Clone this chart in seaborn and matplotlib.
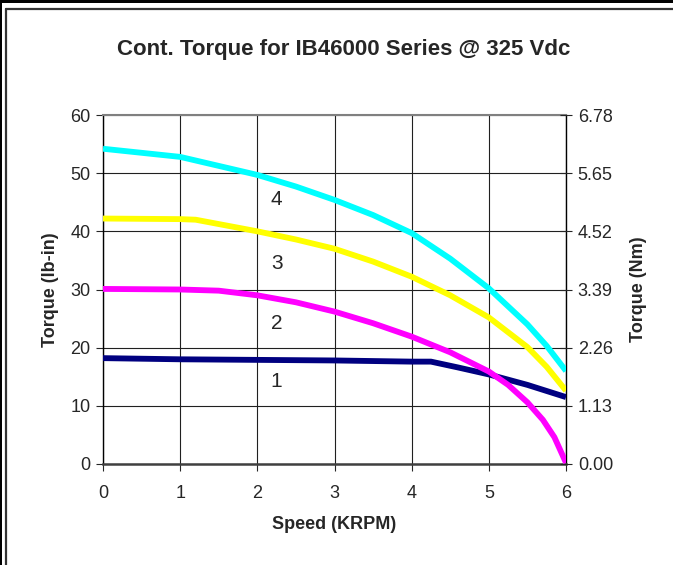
import matplotlib
matplotlib.use("Agg")
import matplotlib.pyplot as plt
import pandas as pd
import seaborn as sns
from matplotlib.lines import Line2D
from matplotlib.patches import Rectangle

# speed (KRPM) and torque (lb-in)
SPEED_1 = [0, 1, 2, 3, 4, 4.25, 4.6, 5, 5.5, 6]
TORQUE_1 = [18.2, 18.0, 17.9, 17.8, 17.6, 17.6, 16.6, 15.4, 13.6, 11.5]
SPEED_2 = [0, 1, 1.5, 2, 2.5, 3, 3.5, 4, 4.5, 5, 5.25, 5.5, 5.7, 5.85, 6]
TORQUE_2 = [30.1, 30.0, 29.8, 29.0, 27.8, 26.2, 24.2, 21.9, 19.2, 15.9, 13.6, 10.6, 7.6, 4.6, 0.2]
SPEED_3 = [0, 1, 1.2, 2, 2.5, 3, 3.5, 4, 4.5, 5, 5.5, 5.75, 6]
TORQUE_3 = [42.2, 42.1, 42.0, 40.0, 38.6, 37.0, 34.8, 32.2, 29.0, 25.2, 20.1, 16.7, 12.6]
SPEED_4 = [0, 1, 2, 2.5, 3, 3.5, 4, 4.5, 5, 5.5, 5.75, 6]
TORQUE_4 = [54.2, 52.8, 49.7, 47.7, 45.4, 42.8, 39.7, 35.3, 30.2, 24.0, 20.3, 16.0]

SERIES_NAMES = ["1", "2", "3", "4"]
SERIES_COLORS = ["#000080", "#FF00FF", "#FFFF00", "#00FFFF"]
LABEL_X = [2.25, 2.25, 2.25, 2.25]
LABEL_Y = [14.1, 24.2, 34.5, 45.4]

X_TICKS = [0, 1, 2, 3, 4, 5, 6]
Y_TICKS = [0, 10, 20, 30, 40, 50, 60]
NM_TICKS = [0.00, 1.13, 2.26, 3.39, 4.52, 5.65, 6.78]

TITLE = "Cont. Torque for IB46000 Series @ 325 Vdc"


def main() -> None:
    sns.set_style("white")
    plt.rcParams["font.family"] = ["Liberation Sans", "DejaVu Sans"]

    frames = []
    for name, xs, ys in [
        ("1", SPEED_1, TORQUE_1),
        ("2", SPEED_2, TORQUE_2),
        ("3", SPEED_3, TORQUE_3),
        ("4", SPEED_4, TORQUE_4),
    ]:
        frames.append(pd.DataFrame({"speed": xs, "torque": ys, "motor": name}))
    df = pd.concat(frames, ignore_index=True)

    fig = plt.figure(figsize=(6.73, 5.65), dpi=100)
    ax = fig.add_axes([103 / 673, 101 / 565, 463 / 673, 349 / 565])

    for name, color in zip(SERIES_NAMES, SERIES_COLORS):
        sub = df[df["motor"] == name]
        sns.lineplot(data=sub, x="speed", y="torque", color=color, linewidth=4.2,
                     ax=ax, legend=False, zorder=3, solid_capstyle="butt")

    for name, x, y in zip(SERIES_NAMES, LABEL_X, LABEL_Y):
        ax.text(x, y, name, fontsize=15, ha="center", va="center", zorder=4)

    ax.set_xlim(0, 6)
    ax.set_ylim(0, 60)
    ax.set_xticks(X_TICKS)
    ax.set_yticks(Y_TICKS)
    ax.grid(True, color="#202020", linewidth=0.8)
    ax.tick_params(axis="both", labelsize=13, direction="out", length=5, width=0.8,
                   left=True, bottom=True, pad=4)
    ax.tick_params(axis="x", pad=10)
    ax.set_xlabel("Speed (KRPM)", fontsize=13, fontweight="bold", labelpad=10)
    ax.set_ylabel("Torque (lb-in)", fontsize=13, fontweight="bold", labelpad=8)
    for side in ["left", "right"]:
        ax.spines[side].set_color("#000000")
        ax.spines[side].set_linewidth(1.0)
    ax.spines["top"].set_color("#808080")
    ax.spines["top"].set_linewidth(1.5)
    ax.spines["bottom"].set_color("#404040")
    ax.spines["bottom"].set_linewidth(1.8)

    ax2 = ax.twinx()
    ax2.set_ylim(0, 6.78)
    ax2.set_yticks(NM_TICKS)
    ax2.set_yticklabels([f"{v:.2f}" for v in NM_TICKS])
    ax2.tick_params(axis="y", labelsize=13, direction="inout", length=9, width=0.8,
                    right=True, pad=4)
    ax2.set_ylabel("Torque (Nm)", fontsize=13, fontweight="bold", labelpad=12)
    for s in ax2.spines.values():
        s.set_visible(False)

    fig.text(344 / 673, 1 - 49 / 565, TITLE, ha="center", va="center",
             fontsize=16, fontweight="bold")

    # outer frame pieces
    fig.add_artist(Rectangle((0, 1 - 3 / 565), 1, 3 / 565, transform=fig.transFigure,
                             color="black", lw=0))
    fig.add_artist(Rectangle((0, 0), 2 / 673, 1, transform=fig.transFigure,
                             color="black", lw=0))
    fig.add_artist(Line2D([5.5 / 673, 1], [1 - 8.5 / 565, 1 - 8.5 / 565],
                          transform=fig.transFigure, color="#333333", lw=1.6))
    fig.add_artist(Line2D([5.5 / 673, 5.5 / 673], [0, 1 - 8.5 / 565],
                          transform=fig.transFigure, color="#333333", lw=1.6))

    fig.savefig("out.png", dpi=100)
    plt.close(fig)


if __name__ == "__main__":
    main()
